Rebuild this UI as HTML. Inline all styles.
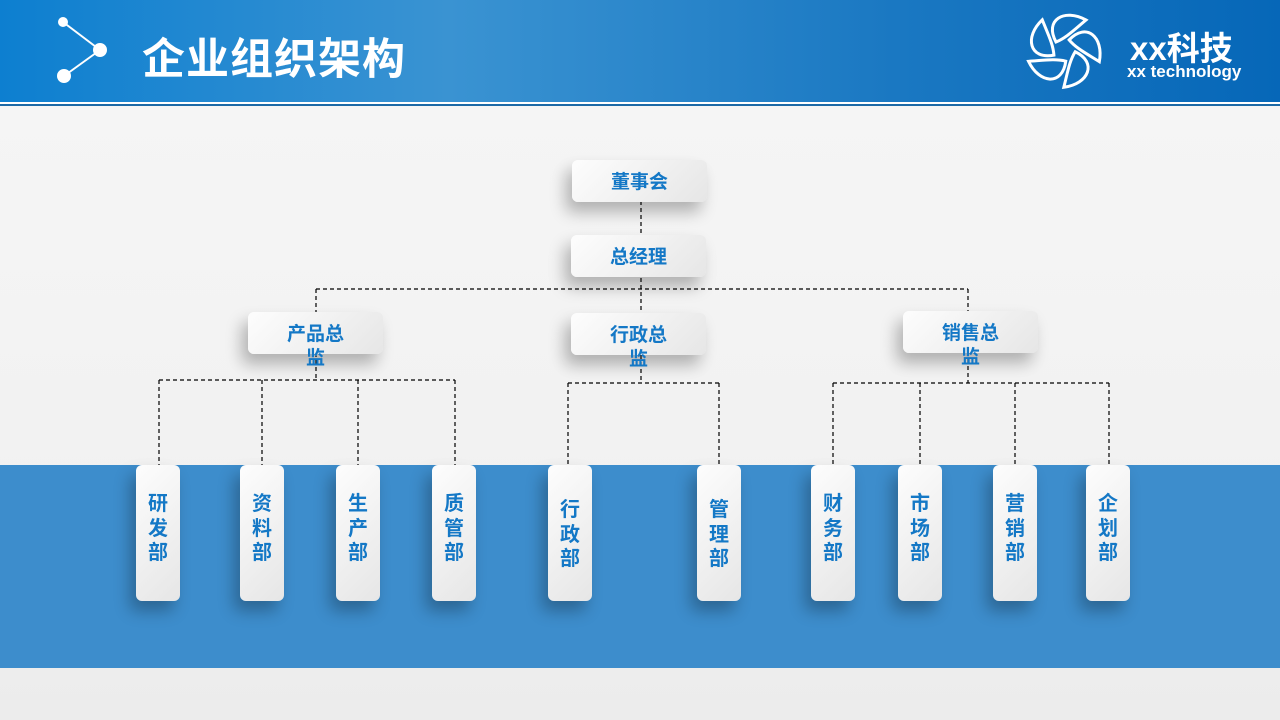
<!DOCTYPE html>
<html><head><meta charset="utf-8">
<style>
*{margin:0;padding:0;box-sizing:border-box}
body{width:1280px;height:720px;overflow:hidden;position:relative;background:linear-gradient(180deg,#f6f6f6 0%,#f2f2f2 60%,#ececec 100%);font-family:"Liberation Sans","Noto Sans CJK SC",sans-serif}
.hdr{position:absolute;left:0;top:0;width:1280px;height:102px;background:linear-gradient(90deg,#0d7fd0 0%,#3a93d2 35%,#1a78c2 70%,#0667b8 100%)}
.l1{position:absolute;left:0;top:102px;width:1280px;height:2px;background:#fff}
.l2{position:absolute;left:0;top:104px;width:1280px;height:1.5px;background:#1c69a6}
.title{position:absolute;left:142px;top:25px;font-size:43px;font-weight:bold;color:#fff;letter-spacing:1px}
.band{position:absolute;left:0;top:465px;width:1280px;height:203px;background:#3d8dcc}
.box{position:absolute;background:linear-gradient(135deg,#fdfdfd,#e6e6e6);border-radius:6px;box-shadow:-6px 10px 16px rgba(0,0,0,.28);color:#1478c6;font-weight:bold;text-align:center;font-size:19px}
.h{width:135px;height:42px;line-height:24px;padding-top:11px}
.v{width:44px;height:136px;font-size:20px;line-height:24.5px;padding-top:27px}
.brand{position:absolute;left:1130px;top:22px;color:#fff;font-weight:bold;font-size:33px}
.brand2{position:absolute;left:1127px;top:62px;color:#fff;font-weight:bold;font-size:17px}
</style></head><body>
<div class="hdr"></div><div class="l1"></div><div class="l2"></div>
<svg style="position:absolute;left:0;top:0" width="1280" height="110">
<g stroke="#fff" stroke-width="2" fill="#fff">
<line x1="63" y1="22" x2="100" y2="50"/><line x1="100" y1="50" x2="64" y2="76"/>
<circle cx="63" cy="22" r="4"/><circle cx="100" cy="50" r="6"/><circle cx="64" cy="76" r="6"/>
</g>
<g fill="none" stroke="#fff" stroke-width="3">
<g transform="translate(1064,50)">
<path d="M-8,-8 C-20,-30 0,-42 22,-30 C10,-20 2,-12 -8,-8Z"/>
<path d="M-8,-8 C-20,-30 0,-42 22,-30 C10,-20 2,-12 -8,-8Z" transform="rotate(72)"/>
<path d="M-8,-8 C-20,-30 0,-42 22,-30 C10,-20 2,-12 -8,-8Z" transform="rotate(144)"/>
<path d="M-8,-8 C-20,-30 0,-42 22,-30 C10,-20 2,-12 -8,-8Z" transform="rotate(216)"/>
<path d="M-8,-8 C-20,-30 0,-42 22,-30 C10,-20 2,-12 -8,-8Z" transform="rotate(288)"/>
</g></g>
</svg>
<div class="title">企业组织架构</div>
<div class="brand">xx科技</div>
<div class="brand2">xx technology</div>
<div class="band"></div>
<svg style="position:absolute;left:0;top:0" width="1280" height="720">
<g stroke="#000" stroke-width="1.2" stroke-dasharray="4,3" fill="none">
<line x1="641" y1="201" x2="641" y2="313"/>
<line x1="316" y1="289" x2="968" y2="289"/>
<line x1="316" y1="289" x2="316" y2="312"/><line x1="968" y1="289" x2="968" y2="311"/>
<line x1="316" y1="353" x2="316" y2="380"/>
<line x1="159" y1="380" x2="455" y2="380"/>
<line x1="159" y1="380" x2="159" y2="465"/><line x1="262" y1="380" x2="262" y2="465"/><line x1="358" y1="380" x2="358" y2="465"/><line x1="455" y1="380" x2="455" y2="465"/>
<line x1="641" y1="355" x2="641" y2="383"/>
<line x1="568" y1="383" x2="719" y2="383"/>
<line x1="568" y1="383" x2="568" y2="465"/><line x1="719" y1="383" x2="719" y2="465"/>
<line x1="968" y1="352" x2="968" y2="383"/>
<line x1="833" y1="383" x2="1109" y2="383"/>
<line x1="833" y1="383" x2="833" y2="465"/><line x1="920" y1="383" x2="920" y2="465"/><line x1="1015" y1="383" x2="1015" y2="465"/><line x1="1109" y1="383" x2="1109" y2="465"/>
</g></svg>
<div class="box h" style="left:572px;top:160px">董事会</div>
<div class="box h" style="left:571px;top:235px">总经理</div>
<div class="box h" style="left:248px;top:312px">产品总<br>监</div>
<div class="box h" style="left:571px;top:313px">行政总<br>监</div>
<div class="box h" style="left:903px;top:311px">销售总<br>监</div>
<div class="box v" style="left:136px;top:465px">研<br>发<br>部</div>
<div class="box v" style="left:240px;top:465px">资<br>料<br>部</div>
<div class="box v" style="left:336px;top:465px">生<br>产<br>部</div>
<div class="box v" style="left:432px;top:465px">质<br>管<br>部</div>
<div class="box v" style="left:548px;top:465px;padding-top:33px">行<br>政<br>部</div>
<div class="box v" style="left:697px;top:465px;padding-top:33px">管<br>理<br>部</div>
<div class="box v" style="left:811px;top:465px">财<br>务<br>部</div>
<div class="box v" style="left:898px;top:465px">市<br>场<br>部</div>
<div class="box v" style="left:993px;top:465px">营<br>销<br>部</div>
<div class="box v" style="left:1086px;top:465px">企<br>划<br>部</div>
</body></html>
